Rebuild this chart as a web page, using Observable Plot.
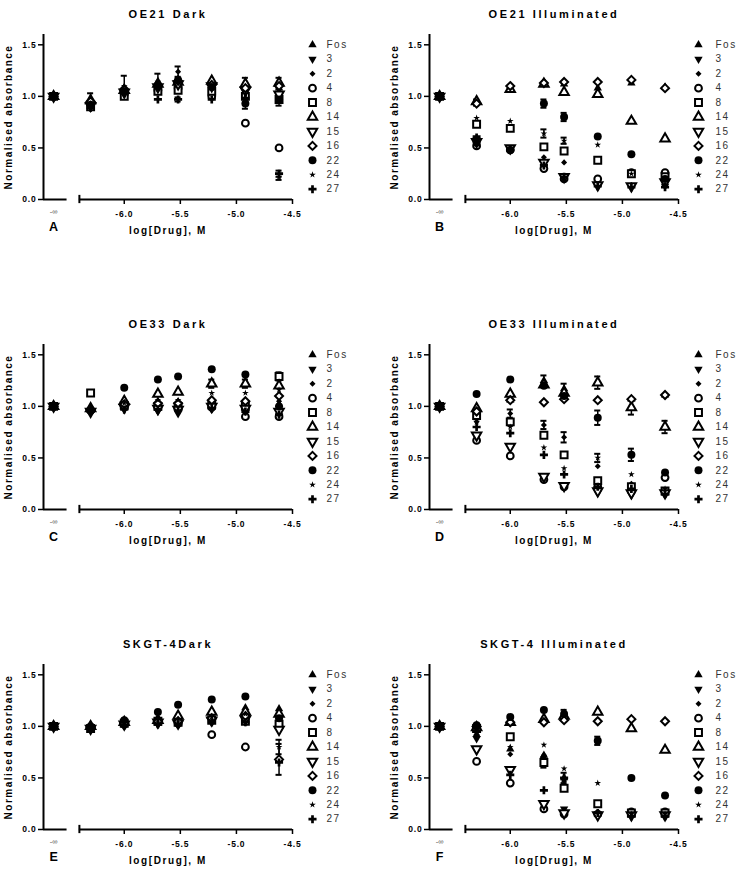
<!DOCTYPE html>
<html><head><meta charset="utf-8">
<script src="https://cdn.jsdelivr.net/npm/d3@7"></script>
<script src="https://cdn.jsdelivr.net/npm/@observablehq/plot@0.6"></script>
<style>
body{margin:0;background:#fff;}
#root{position:relative;width:742px;height:873px;background:#fff;}
.panel{position:absolute;}
</style></head><body><div id="root"></div>
<script>
// ---------- data ----------
const series = ["Fos","3","2","4","8","14","15","16","22","24","27"];
// log10 molar concentrations (0.5, 1, 2, 3, 6, 12, 24 µM); index 0 of each series is the untreated control (-∞)
const doseLog = [-6.30, -6.00, -5.70, -5.52, -5.22, -4.92, -4.62];
const yTicks = [0, 0.5, 1.0, 1.5];
const xTicks = [-6.0, -5.5, -5.0, -4.5];

const oe21Dark = {
  "Fos":[1.00,0.95,1.05,1.10,1.12,1.16,1.10,1.08],
  "3":  [1.00,0.92,1.03,1.08,1.10,1.08,1.05,1.00],
  "2":  [1.00,0.94,1.08,1.12,1.24,1.12,1.08,1.05],
  "4":  [1.00,0.93,1.02,1.06,1.08,1.00,0.74,0.50],
  "8":  [1.00,0.90,1.00,1.05,1.06,1.05,1.00,0.97],
  "14": [1.00,0.96,1.06,1.12,1.14,1.15,1.12,1.13],
  "15": [1.00,0.91,1.04,1.09,1.12,1.10,1.06,1.02],
  "16": [1.00,0.95,1.07,1.10,1.15,1.11,1.08,1.10],
  "22": [1.00,0.92,1.05,1.11,1.16,1.09,0.93,0.97],
  "24": [1.00,0.93,1.10,1.14,1.18,1.08,1.02,0.22],
  "27": [1.00,0.89,1.03,0.97,0.97,0.97,0.98,0.25]
};
const oe21DarkErr = [["Fos",1,0.08],["24",2,0.10],["24",3,0.08],["2",4,0.05],["27",4,0.02],["14",6,0.06],["22",6,0.05],["14",7,0.05],["8",7,0.06],["24",7,0.03],["27",7,0.03]];

const oe21Ill = {
  "Fos":[1.00,0.94,1.09,1.13,1.12,1.08,1.13,1.09],
  "3":  [1.00,0.60,0.50,0.36,0.21,0.13,0.13,0.13],
  "2":  [1.00,0.60,0.69,0.41,0.36,0.15,0.14,0.14],
  "4":  [1.00,0.52,0.48,0.30,0.20,0.20,0.26,0.26],
  "8":  [1.00,0.73,0.69,0.51,0.47,0.38,0.25,0.22],
  "14": [1.00,0.95,1.07,1.12,1.04,1.02,0.76,0.59],
  "15": [1.00,0.56,0.50,0.36,0.22,0.14,0.13,0.17],
  "16": [1.00,0.93,1.10,1.13,1.14,1.14,1.16,1.08],
  "22": [1.00,0.55,0.48,0.93,0.80,0.61,0.44,0.20],
  "24": [1.00,0.79,0.76,0.64,0.57,0.53,0.25,0.20],
  "27": [1.00,0.60,0.48,0.33,0.22,0.13,0.12,0.12]
};
const oe21IllErr = [["Fos",1,0.03],["22",3,0.04],["24",3,0.04],["22",4,0.04],["24",4,0.03]];

const oe33Dark = {
  "Fos":[1.00,0.99,1.04,1.05,1.04,1.05,1.03,1.02],
  "3":  [1.00,0.96,0.97,0.95,0.93,0.97,0.97,0.95],
  "2":  [1.00,0.97,0.98,0.97,0.95,1.00,1.02,1.05],
  "4":  [1.00,0.96,1.00,1.00,0.98,0.99,0.90,0.90],
  "8":  [1.00,1.13,1.01,1.00,1.00,1.02,1.00,1.29],
  "14": [1.00,0.98,1.05,1.12,1.14,1.22,1.22,1.20],
  "15": [1.00,0.95,0.99,0.98,0.97,1.00,0.98,0.95],
  "16": [1.00,0.97,1.02,1.03,1.03,1.06,1.05,1.10],
  "22": [1.00,0.96,1.18,1.26,1.29,1.36,1.31,1.00],
  "24": [1.00,0.97,1.03,1.06,1.06,1.13,1.13,1.16],
  "27": [1.00,0.95,0.97,0.97,0.96,0.98,0.95,0.92]
};
const oe33DarkErr = [["8",7,0.04],["14",5,0.04],["14",6,0.04]];

const oe33Ill = {
  "Fos":[1.00,0.98,1.06,1.25,1.17,1.23,1.07,1.11],
  "3":  [1.00,0.72,0.61,0.33,0.22,0.16,0.14,0.15],
  "2":  [1.00,0.85,0.93,0.82,0.70,0.42,0.25,0.18],
  "4":  [1.00,0.67,0.52,0.29,0.22,0.22,0.18,0.31],
  "8":  [1.00,0.91,0.85,0.72,0.53,0.28,0.22,0.18],
  "14": [1.00,0.98,1.12,1.21,1.13,1.23,0.99,0.80],
  "15": [1.00,0.72,0.61,0.32,0.23,0.18,0.16,0.16],
  "16": [1.00,0.95,1.06,1.04,1.07,1.06,1.07,1.11],
  "22": [1.00,1.12,1.26,1.20,1.10,0.89,0.53,0.36],
  "24": [1.00,0.85,0.80,0.60,0.40,0.50,0.34,0.20],
  "27": [1.00,0.80,0.74,0.53,0.34,0.22,0.20,0.15]
};
const oe33IllErr = [["2",2,0.04],["Fos",3,0.05],["2",3,0.04],["Fos",4,0.05],["2",4,0.05],["14",5,0.06],["22",5,0.07],["24",5,0.04],["14",6,0.07],["22",6,0.06],["14",7,0.06]];

const skDark = {
  "Fos":[1.00,0.99,1.03,1.05,1.06,1.10,1.18,1.17],
  "3":  [1.00,0.98,1.01,1.02,1.02,1.05,1.06,1.04],
  "2":  [1.00,0.99,1.02,1.03,1.04,1.07,1.08,1.02],
  "4":  [1.00,0.99,1.02,1.04,1.03,0.92,0.80,1.00],
  "8":  [1.00,0.98,1.03,1.05,1.04,1.06,1.05,1.02],
  "14": [1.00,1.00,1.04,1.06,1.10,1.14,1.14,1.12],
  "15": [1.00,0.98,1.02,1.04,1.03,1.06,1.07,0.97],
  "16": [1.00,0.99,1.03,1.05,1.05,1.08,1.10,0.68],
  "22": [1.00,1.00,1.06,1.14,1.21,1.26,1.29,1.08],
  "24": [1.00,0.99,1.04,1.06,1.07,1.09,1.12,0.80],
  "27": [1.00,0.98,1.01,1.02,1.02,1.04,1.04,0.65]
};
const skDarkErr = [["16",7,0.15],["24",7,0.07]];

const skIll = {
  "Fos":[1.00,0.92,0.78,0.72,0.50,0.15,0.14,0.14],
  "3":  [1.00,0.88,0.58,0.25,0.20,0.15,0.15,0.14],
  "2":  [1.00,0.92,0.73,0.72,0.47,0.15,0.14,0.13],
  "4":  [1.00,0.66,0.45,0.20,0.15,0.15,0.17,0.17],
  "8":  [1.00,0.98,0.90,0.65,0.40,0.25,0.16,0.16],
  "14": [1.00,0.99,1.04,1.07,1.10,1.14,0.98,0.77],
  "15": [1.00,0.78,0.58,0.25,0.16,0.14,0.14,0.14],
  "16": [1.00,1.00,1.04,1.04,1.06,1.05,1.07,1.05],
  "22": [1.00,1.01,1.09,1.16,1.12,0.86,0.50,0.33],
  "24": [1.00,0.96,0.80,0.82,0.59,0.45,0.15,0.15],
  "27": [1.00,0.95,0.53,0.38,0.50,0.16,0.13,0.13]
};
const skIllErr = [["22",4,0.04],["22",5,0.04],["8",3,0.05],["27",4,0.05]];

const panels = [
  {title:"OE21 Dark", letter:"A", data:oe21Dark, err:oe21DarkErr, left:0, top:0},
  {title:"OE21 Illuminated", letter:"B", data:oe21Ill, err:oe21IllErr, left:371, top:0},
  {title:"OE33 Dark", letter:"C", data:oe33Dark, err:oe33DarkErr, left:0, top:310},
  {title:"OE33 Illuminated", letter:"D", data:oe33Ill, err:oe33IllErr, left:371, top:310},
  {title:"SKGT-4Dark", letter:"E", data:skDark, err:skDarkErr, left:0, top:630},
  {title:"SKGT-4 Illuminated", letter:"F", data:skIll, err:skIllErr, left:371, top:630}
];

// ---------- layout / styles ----------
const X_MIN = -6.72, CTRL_X = -6.63, CTRL_END = -6.51, AXIS_START = -6.4, X_MAX = -4.5;
const symTriDown = {draw(c, size){ const y = -Math.sqrt(size/(Math.sqrt(3)*3)); const s = Math.sqrt(3)*y; c.moveTo(0,-2*y); c.lineTo(s,y); c.lineTo(-s,y); c.closePath(); }};
const symDiamond = {draw(c, size){ const r = Math.sqrt(size/2); c.moveTo(0,-r); c.lineTo(r,0); c.lineTo(0,r); c.lineTo(-r,0); c.closePath(); }};
const styles = {
  "Fos":{symbol:d3.symbolTriangle, fill:"black", stroke:"none", sw:0, r:3.1},
  "3":  {symbol:symTriDown, fill:"black", stroke:"none", sw:0, r:3.1},
  "2":  {symbol:symDiamond, fill:"black", stroke:"none", sw:0, r:2.4},
  "4":  {symbol:d3.symbolCircle, fill:"white", stroke:"black", sw:2, r:3.4},
  "8":  {symbol:d3.symbolSquare, fill:"white", stroke:"black", sw:2, r:3.9},
  "14": {symbol:d3.symbolTriangle, fill:"white", stroke:"black", sw:2, r:3.5},
  "15": {symbol:symTriDown, fill:"white", stroke:"black", sw:2, r:3.5},
  "16": {symbol:symDiamond, fill:"white", stroke:"black", sw:2, r:3.2},
  "22": {symbol:d3.symbolCircle, fill:"black", stroke:"none", sw:0, r:4},
  "24": {symbol:d3.symbolStar, fill:"black", stroke:"none", sw:0, r:2.1},
  "27": {symbol:d3.symbolCross, fill:"black", stroke:"none", sw:0, r:3.4}
};
const xOf = i => i === 0 ? CTRL_X : doseLog[i-1];
const FONT = "'Liberation Sans', Arial, sans-serif";

function makePanel(p) {
  const isLeft = p.left === 0;
  const rows = [];
  for (const s of series) p.data[s].forEach((v,i) => rows.push({s, x:xOf(i), y:v}));
  const errRows = p.err.map(([s,i,e]) => ({s, x:xOf(i), y:p.data[s][i], e}));
  const marks = [
    Plot.ruleX([X_MIN], {y1:0, y2:1.6, strokeWidth:2}),
    Plot.ruleY([0], {x1:X_MIN, x2:CTRL_END, strokeWidth:2}),
    Plot.ruleY([0], {x1:AXIS_START, x2:X_MAX, strokeWidth:2}),
    Plot.ruleX([AXIS_START], {y1:-0.04, y2:0.04, strokeWidth:2}),
    Plot.axisY({ticks:yTicks, tickFormat:d=>d.toFixed(1), tickSize:5, tickPadding:2, fontSize:8.5, fontWeight:"bold", strokeWidth:1.5, label:null}),
    Plot.axisX({ticks:xTicks, tickFormat:d=>d.toFixed(1), tickSize:5, tickPadding:6, fontSize:8.5, fontWeight:"bold", strokeWidth:1.5, label:null}),
    Plot.text(["-∞"], {x:CTRL_X, y:0, dy:12, fontSize:7.5, fill:"#555"}),
    Plot.text([p.letter], {x:CTRL_X, y:0, dy:27, fontSize:12.5, fontWeight:"bold"}),
    Plot.text([p.title], {frameAnchor:"top", dy:-24, fontSize:11, fontWeight:"bold"}),
    Plot.text(["Normalised absorbance"], {frameAnchor:"left", textAnchor:"middle", rotate:-90, dx:-35, fontSize:10, fontWeight:"bold"}),
    Plot.text(["log[Drug], M"], {frameAnchor:"bottom", textAnchor:"middle", dy:34, fontSize:10, fontWeight:"bold"}),
    // error bars
    Plot.ruleX(errRows, {x:"x", y1:d=>d.y-d.e, y2:d=>d.y+d.e, strokeWidth:1.5}),
    Plot.ruleY(errRows, {y:d=>d.y+d.e, x1:d=>d.x-0.027, x2:d=>d.x+0.027, strokeWidth:2}),
    Plot.ruleY(errRows, {y:d=>d.y-d.e, x1:d=>d.x-0.027, x2:d=>d.x+0.027, strokeWidth:2})
  ];
  series.forEach((s, k) => {
    const st = styles[s];
    marks.push(Plot.dot(rows.filter(r => r.s === s), {x:"x", y:"y", symbol:st.symbol, r:st.r, fill:st.fill, stroke:st.stroke, strokeWidth:st.sw}));
    // legend entry
    marks.push(Plot.dot([s], {y:1.5 - k*0.14, frameAnchor:"right", dx:20, symbol:st.symbol, r:st.r, fill:st.fill, stroke:st.stroke, strokeWidth:st.sw}));
  });
  marks.push(Plot.text(series, {y:(d,k)=>1.5 - k*0.14, text:d=>d, frameAnchor:"right", dx:isLeft?34:37, textAnchor:"start", fontSize:10, fill:"#333"}));

  const svg = Plot.plot({
    width:371, height:240,
    marginLeft:isLeft?43:58, marginRight:isLeft?79:64, marginTop:34, marginBottom:41,
    x:{domain:[X_MIN, X_MAX]},
    y:{domain:[0, 1.6]},
    style:{fontFamily:FONT, background:"white", overflow:"visible", color:"black"},
    marks
  });
  // letter spacing to match the reference typography
  const tickTexts = new Set([...yTicks, ...xTicks].map(d => d.toFixed(1)));
  svg.querySelectorAll("text").forEach(t => {
    const s = t.textContent;
    let ls = null;
    if (s === p.title) ls = "2.6px";
    else if (s === "Normalised absorbance") ls = "1.5px";
    else if (s === "log[Drug], M") ls = "1.6px";
    else if (series.includes(s)) ls = "1.5px";
    else if (tickTexts.has(s)) ls = "0.8px";
    if (ls) t.setAttribute("letter-spacing", ls);
  });
  const div = document.createElement("div");
  div.className = "panel";
  div.style.left = p.left + "px";
  div.style.top = p.top + "px";
  div.appendChild(svg);
  return div;
}
const root = document.getElementById("root");
panels.forEach(p => root.appendChild(makePanel(p)));
</script>
</body></html>
